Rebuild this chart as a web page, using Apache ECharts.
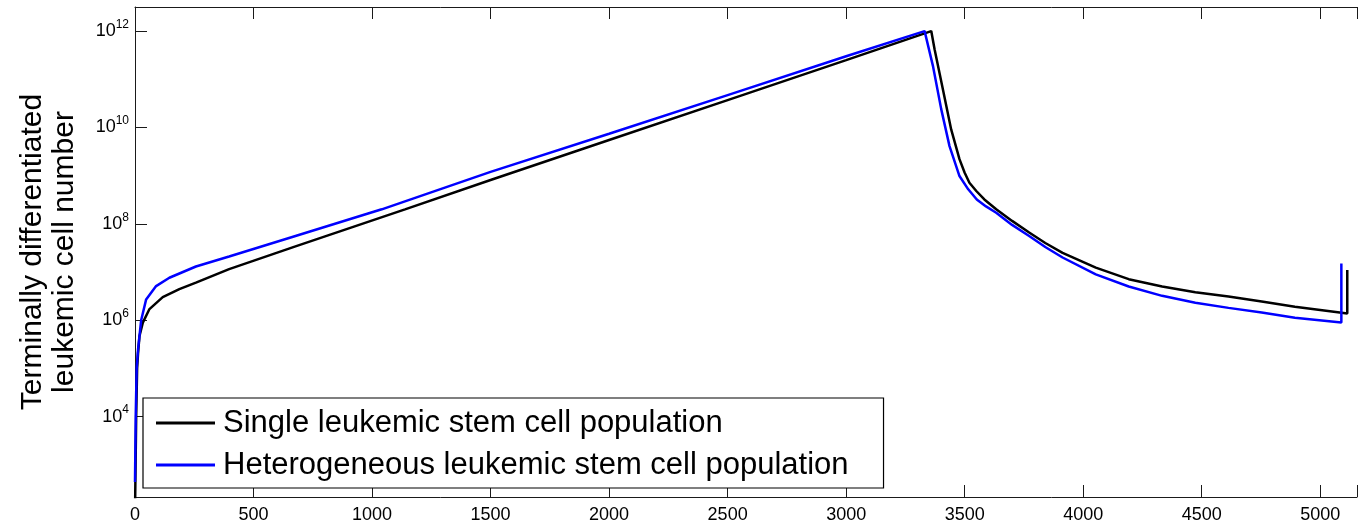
<!DOCTYPE html>
<html>
<head>
<meta charset="utf-8"/>
<title>Leukemic cell number</title>
<script src="https://cdn.jsdelivr.net/npm/echarts@6/dist/echarts.min.js"></script>
<style>
  html, body { margin: 0; padding: 0; background: #fff; }
  #main { width: 1360px; height: 529px; }
</style>
</head>
<body>
<div id="main"></div>
<script type="text/javascript">
// time (x) and cell numbers (y)
var singleX = [0, 5, 9, 13, 19, 33, 61, 117, 187, 257, 397, 677, 1139, 1500, 2000, 2500, 3000, 3359,
               3373, 3408, 3443, 3478, 3500, 3520, 3549, 3583, 3633, 3700, 3772, 3840, 3913, 4053, 4192, 4333,
               4473, 4613, 4753, 4893, 5082, 5114, 5114];
var singleY = [1e2, 1e4, 1e5, 2.1e5, 4.7e5, 8.9e5, 1.7e6, 3.0e6, 4.4e6, 6.0e6, 1.15e7, 3.4e7, 2.0e8, 8.1e8, 5.5e9, 3.7e10, 2.5e11, 1.0e12,
               4.2e11, 6.2e10, 9.1e9, 2.2e9, 1.15e9, 7.1e8, 4.8e8, 3.2e8, 2.0e8, 1.15e8, 6.6e7, 4.0e7, 2.5e7, 1.23e7, 7.1e6, 5.0e6,
               3.8e6, 3.1e6, 2.45e6, 1.9e6, 1.45e6, 1.38e6, 1.1e7];

var heteroX = [0, 3, 7, 13, 26, 47, 89, 145, 257, 397, 677, 1041, 1500, 2000, 2500, 3000, 3331,
               3366, 3401, 3436, 3478, 3515, 3551, 3590, 3633, 3700, 3772, 3840, 3913, 4053, 4192, 4333, 4473,
               4613, 4753, 4893, 5089, 5089];
var heteroY = [4.4e2, 1e4, 1e5, 2.5e5, 1e6, 2.7e6, 5.1e6, 7.6e6, 1.3e7, 2.1e7, 5.6e7, 2.0e8, 1.2e9, 7.4e9, 4.7e10, 3.0e11, 1.0e12,
               1.9e11, 2.4e10, 4.1e9, 9.8e8, 5.2e8, 3.2e8, 2.3e8, 1.7e8, 9.5e7, 5.6e7, 3.3e7, 2.0e7, 8.9e6, 5.0e6, 3.2e6, 2.3e6,
               1.8e6, 1.45e6, 1.12e6, 8.9e5, 1.5e7];

var seriesNames = ['Single leukemic stem cell population', 'Heterogeneous leukemic stem cell population'];
var yTickExps = [4, 6, 8, 10, 12];   // labelled decades
var yLogMin = 2.33, yLogMax = 12.5;  // axis range in decades
var xMax = 5155, xStep = 500;

function zip(xs, ys) {
    var out = [];
    for (var i = 0; i < xs.length; i++) out.push([xs[i], ys[i]]);
    return out;
}

var font = '"Liberation Sans", Arial, Helvetica, sans-serif';
var axisColor = '#1a1a1a';

var dom = document.getElementById('main');
var myChart = echarts.init(dom, null, {renderer: 'canvas'});
var option = {
    animation: false,
    backgroundColor: '#fff',
    textStyle: {fontFamily: font, color: '#000'},
    grid: {left: 135, top: 7, width: 1227, height: 490, containLabel: false},
    legend: {
        orient: 'vertical',
        left: 143,
        top: 398,
        padding: [7, 35, 5, 13],
        itemGap: 6,
        itemWidth: 59,
        itemHeight: 3,
        icon: 'rect',
        borderColor: '#000',
        borderWidth: 1.2,
        backgroundColor: '#fff',
        textStyle: {fontFamily: font, fontSize: 31, color: '#000', lineHeight: 36, padding: [0, 0, 0, 3]},
        data: seriesNames
    },
    xAxis: [{
        type: 'value',
        min: 0,
        max: xMax,
        interval: xStep,
        position: 'bottom',
        axisLine: {show: true, lineStyle: {color: axisColor, width: 1}},
        axisTick: {show: true, inside: true, length: 12, lineStyle: {color: axisColor}},
        splitLine: {show: false},
        axisLabel: {
            margin: 9,
            fontFamily: font,
            fontSize: 18,
            color: '#000',
            formatter: function (v) { return v % xStep === 0 ? String(v) : ''; }
        }
    }, {
        type: 'value',
        min: 0,
        max: xMax,
        interval: xStep,
        position: 'top',
        axisLine: {show: true, lineStyle: {color: axisColor, width: 1}},
        axisTick: {show: true, inside: true, length: 12, lineStyle: {color: axisColor}},
        splitLine: {show: false},
        axisLabel: {show: false}
    }],
    yAxis: [{
        // data axis (log scale), drawn without decoration
        type: 'log',
        logBase: 10,
        min: Math.pow(10, yLogMin),
        max: Math.pow(10, yLogMax),
        show: false,
        splitLine: {show: false}
    }, {
        // decade ticks and labels
        type: 'value',
        min: yLogMin,
        max: yLogMax,
        position: 'left',
        name: 'Terminally differentiated\nleukemic cell number',
        nameLocation: 'middle',
        nameRotate: 90,
        nameGap: 54,
        nameTextStyle: {fontFamily: font, fontSize: 30, color: '#000', lineHeight: 32},
        axisLine: {show: true, lineStyle: {color: axisColor, width: 1}},
        axisTick: {show: true, inside: true, length: 12, lineStyle: {color: axisColor}},
        splitLine: {show: false},
        axisLabel: {
            margin: 6,
            color: '#000',
            formatter: function (v) {
                return yTickExps.indexOf(v) >= 0 ? '{b|10}{e|' + v + '}' : '';
            },
            rich: {
                b: {fontFamily: font, fontSize: 18, color: '#000'},
                e: {fontFamily: font, fontSize: 12, color: '#000', padding: [0, 0, 13, 0]}
            }
        }
    }],
    series: [{
        name: seriesNames[0],
        type: 'line',
        xAxisIndex: 0,
        yAxisIndex: 0,
        showSymbol: false,
        symbol: 'none',
        lineStyle: {color: '#000', width: 2.5},
        itemStyle: {color: '#000'},
        data: zip(singleX, singleY)
    }, {
        name: seriesNames[1],
        type: 'line',
        xAxisIndex: 0,
        yAxisIndex: 0,
        showSymbol: false,
        symbol: 'none',
        lineStyle: {color: '#0000ff', width: 2.5},
        itemStyle: {color: '#0000ff'},
        data: zip(heteroX, heteroY)
    }]
};
myChart.setOption(option);
</script>
</body>
</html>
